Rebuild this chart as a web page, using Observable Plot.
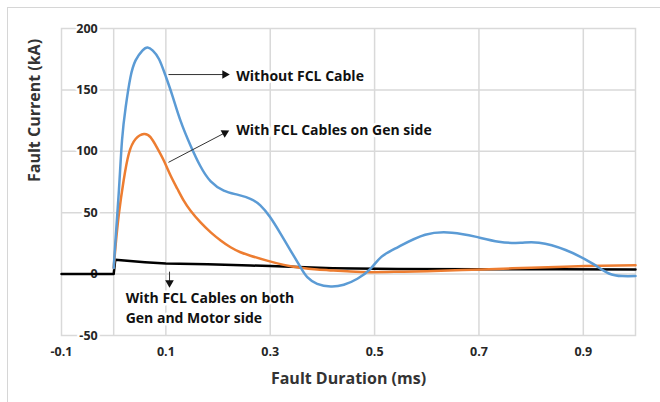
<!DOCTYPE html>
<html><head><meta charset="utf-8">
<script src="https://cdn.jsdelivr.net/npm/d3@7"></script>
<script src="https://cdn.jsdelivr.net/npm/@observablehq/plot@0.6"></script>
<style>
body{margin:0;background:#fff;overflow:hidden}
#wrap{position:relative;width:660px;height:402px;overflow:hidden}
#border{position:absolute;left:7px;top:7px;width:700px;height:500px;border:1px solid #d6d6d6;pointer-events:none}
</style></head><body><div id="wrap"><div id="chart"></div><div id="border"></div></div>
<script>
// ---- data ----
const xTicks = [-0.1, 0.1, 0.3, 0.5, 0.7, 0.9];
const xTickLabels = ["-0.1", "0.1", "0.3", "0.5", "0.7", "0.9"];
const xGrid = [0, 0.1, 0.3, 0.5, 0.7, 0.9];
const yTicks = [200, 150, 100, 50, 0, -50];
const yTickLabels = ["200", "150", "100", "50", "0", "-50"];
const yGrid = [150, 100, 50, 0];

const blueT = [0, 0.0034, 0.010, 0.016, 0.023, 0.032, 0.042, 0.055, 0.065, 0.075, 0.087, 0.099, 0.112, 0.128, 0.147, 0.166, 0.186, 0.211, 0.237, 0.262, 0.281, 0.300, 0.320, 0.339, 0.358, 0.371, 0.390, 0.416, 0.441, 0.467, 0.492, 0.513, 0.545, 0.597, 0.648, 0.693, 0.738, 0.78, 0.815, 0.866, 0.917, 0.949, 0.975, 1.0];
const blueV = [5, 27, 68, 109, 136, 160, 174, 182, 184.5, 182, 175, 162, 146, 125, 105, 88, 75.5, 68, 64.7, 61.3, 56, 46.3, 32.8, 19.2, 5.6, -2.5, -7.9, -10.1, -8.7, -3.8, 4.3, 14, 22, 32, 33.7, 30.5, 26.4, 25.5, 25.5, 19.6, 8.7, 0.5, -1.6, -1.6];

const orangeT = [0, 0.0034, 0.010, 0.019, 0.029, 0.042, 0.058, 0.0705, 0.083, 0.096, 0.109, 0.122, 0.134, 0.147, 0.166, 0.186, 0.205, 0.224, 0.243, 0.262, 0.294, 0.326, 0.358, 0.39, 0.421, 0.454, 0.492, 0.545, 0.6, 0.706, 0.8, 0.904, 1.0];
const orangeV = [5, 22, 49, 76, 98, 110, 114, 111.5, 103, 92.5, 80.3, 69.5, 60, 51.8, 42.3, 34, 27.4, 21.9, 17.8, 15, 11, 7.5, 5.1, 3.7, 2.9, 2.1, 1.6, 1.9, 2.4, 3.8, 5.2, 6.5, 7.3];

const blackT = [-0.1, 0, 0.003, 0.02, 0.06, 0.1, 0.18, 0.262, 0.3, 0.42, 0.545, 0.7, 0.85, 1.0];
const blackV = [0, 0, 11.6, 11, 9.7, 8.7, 8, 7, 6.5, 4.8, 4.2, 4, 3.9, 3.8];

const labelTexts = ["Without FCL Cable", "With FCL Cables on Gen side", "With FCL Cables on both\nGen and Motor side"];
const labelT = [0.235, 0.235, 0.023];
const labelV = [162.5, 118.6, -26.4];

const arrowT1 = [0.105, 0.105, 0.107];
const arrowV1 = [162.5, 91, 2];
const arrowT2 = [0.213, 0.213, 0.107];
const arrowV2 = [162.5, 115, -7];
const arrowRot = [90, 62, 180];

// ---- build ----
const blue = blueT.map((t, i) => ({t, v: blueV[i]}));
const orange = orangeT.map((t, i) => ({t, v: orangeV[i]}));
const black = blackT.map((t, i) => ({t, v: blackV[i]}));
const labels = labelTexts.map((s, i) => ({s, t: labelT[i], v: labelV[i]}));
const arrows = arrowT1.map((t, i) => ({t1: t, v1: arrowV1[i], t2: arrowT2[i], v2: arrowV2[i], r: arrowRot[i]}));

const font = "'Open Sans', Lato, sans-serif";
const chart = Plot.plot({
  width: 660, height: 402,
  marginLeft: 61, marginRight: 25, marginTop: 28, marginBottom: 67,
  style: {fontFamily: font, background: "transparent"},
  x: {domain: [-0.1, 1.0], axis: null},
  y: {domain: [-50, 200], axis: null},
  marks: [
    Plot.ruleX(xGrid, {stroke: "#d9d9d9", strokeWidth: 1.5}),
    Plot.ruleY(yGrid, {stroke: "#d9d9d9", strokeWidth: 1.5}),
    Plot.frame({stroke: "#d9d9d9", strokeWidth: 1.5}),
    Plot.text(xTicks, {x: d => d, frameAnchor: "bottom", dy: 20, text: (d, i) => xTickLabels[i], fontSize: 12.5, fontWeight: "bold", fill: "#262626"}),
    Plot.text(yTicks, {x: () => 0, y: d => d, dx: -16, textAnchor: "end", text: (d, i) => yTickLabels[i], fontSize: 12.5, fontWeight: "bold", fill: "#262626", stroke: "white", strokeWidth: 5, paintOrder: "stroke"}),
    Plot.text(["Fault Duration (ms)"], {frameAnchor: "bottom", dy: 48, text: d => d, fontSize: 16, fontWeight: "bold", fill: "#333"}),
    Plot.text(["Fault Current (kA)"], {frameAnchor: "left", dx: -27, rotate: -90, text: d => d, fontSize: 16, fontWeight: "bold", fill: "#333"}),
    Plot.text(labels, {x: "t", y: "v", text: "s", textAnchor: "start", lineHeight: 1.45, fontSize: 14, fontWeight: "bold", fill: "#111", stroke: "white", strokeWidth: 5, paintOrder: "stroke"}),
    Plot.line(black, {x: "t", y: "v", stroke: "#000", strokeWidth: 2.5}),
    Plot.line(orange, {x: "t", y: "v", stroke: "#ED7D31", strokeWidth: 2.5, curve: "natural"}),
    Plot.line(blue, {x: "t", y: "v", stroke: "#5B9BD5", strokeWidth: 2.5, curve: "natural"}),
    Plot.link(arrows, {x1: "t1", y1: "v1", x2: "t2", y2: "v2", stroke: "#333", strokeWidth: 1}),
    Plot.dot(arrows, {x: "t2", y: "v2", symbol: "triangle", r: 3.2, fill: "#111", stroke: "none", rotate: "r"})
  ]
});
document.getElementById("chart").appendChild(chart);
</script></body></html>
